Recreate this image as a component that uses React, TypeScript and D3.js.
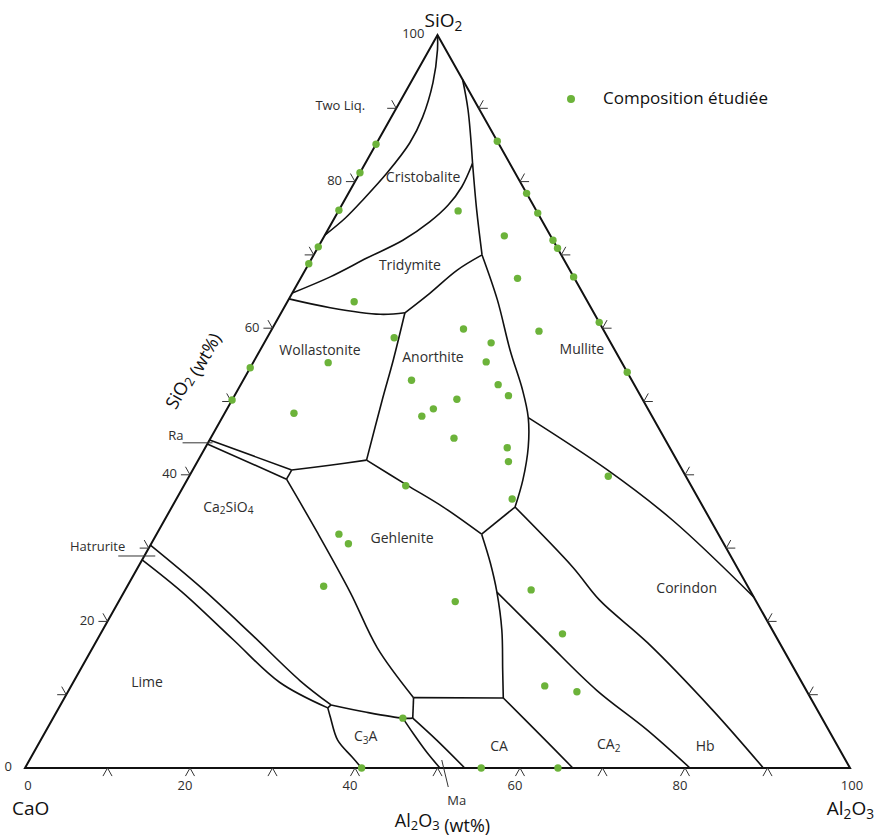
import React from "react";
import * as d3 from "d3";

// Every point is [Al2O3 wt%, SiO2 wt%]; CaO = 100 - Al2O3 - SiO2
type Pt = [number, number];

const studiedCompositions: Pt[] = [
  [0, 85.1], [0, 81.2], [0, 76.1], [0, 71.1], [0, 68.8], [0, 54.6], [0, 50.2],
  [14.5, 85.5], [21.6, 78.4], [24.3, 75.7], [28.0, 72.0], [29.1, 70.9], [33.0, 67.0], [39.2, 60.8], [46.0, 54.0],
  [14.5, 76.0], [21.8, 72.6], [26.3, 66.8], [8.1, 63.6], [15.4, 58.7], [23.2, 59.9], [27.5, 58.0],
  [32.5, 59.6], [28.2, 55.4], [20.4, 52.9], [31.2, 52.3], [33.2, 50.8], [27.2, 50.3], [25.0, 49.0],
  [24.1, 48.0], [29.5, 45.0], [36.6, 43.7], [37.7, 41.8], [40.7, 36.7], [9.1, 55.3], [8.4, 48.4],
  [26.9, 38.5], [50.8, 39.8], [22.1, 31.9], [23.9, 30.6], [23.8, 24.8], [40.8, 22.7], [49.2, 24.3],
  [56.0, 18.3], [57.4, 11.2], [61.7, 10.4], [42.4, 6.8],
  [40.8, 0], [55.3, 0], [64.6, 0],
];

const twoLiquidBoundary: Pt[] = [[0, 100], [1.0, 98.0], [2.7, 93.5], [3.8, 88.8], [4.0, 85.3], [3.3, 81.2], [2.2, 77.5], [1.3, 75.0], [0, 72.7]];
const cristobaliteTridymite: Pt[] = [[13.0, 82.5], [13.3, 79.3], [12.9, 76.8], [11.8, 74.5], [9.8, 72.0], [6.7, 69.6], [3.5, 67.0], [0, 64.8]];
const cristobaliteMullite: Pt[] = [[6.1, 93.9], [8.8, 89.8], [13.0, 82.5]];
const tridymiteMullite: Pt[] = [[13.0, 82.5], [16.7, 76.1], [20.4, 70.0]];
const tridymiteWollastonite: Pt[] = [[0, 64.0], [5.6, 62.8], [12.1, 61.9], [15.0, 62.1]];
const tridymiteAnorthite: Pt[] = [[15.0, 62.1], [16.7, 64.8], [18.4, 67.9], [20.4, 70.0]];
const anorthiteMullite: Pt[] = [[20.4, 70.0], [25.3, 63.9], [30.3, 57.0], [34.5, 51.6], [37.1, 47.8], [39.1, 43.8], [40.7, 39.3], [41.6, 35.6]];
const mulliteCorindon: Pt[] = [[37.1, 47.8], [50.2, 40.7], [61.6, 33.8], [76.7, 23.3]];
const corindonHibonite: Pt[] = [[41.6, 35.6], [52.7, 27.4], [58.2, 22.9], [66.9, 17.1], [79.4, 7.9], [89.5, 0]];
const ca2Hibonite: Pt[] = [[45.2, 24.0], [54.8, 17.1], [64.0, 10.6], [72.8, 5.2], [80.6, 0]];
const gehleniteAnorthite: Pt[] = [[20.4, 42.0], [27.0, 38.6], [32.9, 35.6], [39.4, 31.9]];
const anorthiteCorner: Pt[] = [[39.4, 31.9], [41.6, 35.6]];
const gehleniteCA: Pt[] = [[39.4, 31.9], [42.4, 28.0], [45.2, 24.0], [48.4, 18.8], [51.2, 13.4], [53.2, 9.55]];
const gehleniteBase: Pt[] = [[42.3, 9.6], [53.2, 9.55]];
const caCA2: Pt[] = [[53.2, 9.55], [59.8, 4.8], [66.4, 0]];
const wollastoniteAnorthite: Pt[] = [[15.0, 62.1], [16.8, 55.7], [18.2, 50.2], [20.4, 42.0]];
const rankiniteUpper: Pt[] = [[0, 44.75], [12.0, 40.65]];
const rankiniteLower: Pt[] = [[0, 44.2], [12.0, 39.4]];
const rankiniteEnd: Pt[] = [[12.0, 40.65], [12.0, 39.4]];
const wollastoniteGehlenite: Pt[] = [[12.0, 40.65], [16.3, 41.3], [20.4, 42.0]];
const ca2sio4Gehlenite: Pt[] = [[12.0, 39.4], [19.4, 32.1], [27.5, 23.9], [34.5, 16.4], [42.3, 9.6]];
const hatruriteUpper: Pt[] = [[0, 30.4], [8.9, 24.7], [18.1, 18.4], [27.4, 11.9], [32.8, 8.6]];
const hatruriteLower: Pt[] = [[0, 28.4], [7.2, 23.9], [16.5, 17.5], [25.0, 11.7], [32.6, 8.2]];
const hatruriteEnd: Pt[] = [[32.8, 8.6], [32.6, 8.2]];
const c3aTop: Pt[] = [[32.8, 8.6], [37.6, 7.6], [42.4, 6.8], [43.6, 6.8]];
const c3aLeft: Pt[] = [[32.6, 8.2], [33.5, 7.0], [36.0, 3.8], [38.9, 1.5], [40.8, 0]];
const c3aRight: Pt[] = [[42.4, 6.8], [44.6, 4.8], [47.8, 2.0], [50.3, 0]];
const c12a7Right: Pt[] = [[43.6, 6.8], [48.0, 3.8], [53.3, 0]];
const gehleniteStub: Pt[] = [[42.3, 9.6], [43.6, 6.8]];

const boundaryCurves: Pt[][] = [
  twoLiquidBoundary, cristobaliteTridymite, cristobaliteMullite, tridymiteMullite,
  tridymiteWollastonite, tridymiteAnorthite, anorthiteMullite, mulliteCorindon,
  corindonHibonite, ca2Hibonite, gehleniteAnorthite, anorthiteCorner, gehleniteCA,
  gehleniteBase, caCA2, wollastoniteAnorthite, rankiniteUpper, rankiniteLower,
  rankiniteEnd, wollastoniteGehlenite, ca2sio4Gehlenite, hatruriteUpper, hatruriteLower,
  hatruriteEnd, c3aTop, c3aLeft, c3aRight, c12a7Right, gehleniteStub,
];

const gridTicks = [10, 20, 30, 40, 50, 60, 70, 80, 90];
const axisTickLabels = [0, 20, 40, 60, 80, 100];

const regionNames = ["Cristobalite", "Tridymite", "Wollastonite", "Anorthite", "Mullite", "Ca2SiO4", "Gehlenite", "Corindon", "Lime", "C3A", "CA", "CA2", "Hb"];
const regionAnchors: Pt[] = [[8.0, 80.5], [12.4, 68.5], [7.3, 56.9], [21.5, 55.9], [39.0, 57.0], [6.9, 35.5], [30.1, 31.2], [68.0, 24.4], [9.0, 11.6], [39.2, 4.2], [56.0, 2.9], [69.2, 3.1], [81.0, 2.9]];

const legendLabel = "Composition étudiée";

const W = 876;
const H = 838;
const FONT = "'Open Sans', 'Liberation Sans', sans-serif";
const GREEN = "#6cb33a";
const TXT = "#2e2e2e";

const xScale = d3.scaleLinear().domain([0, 100]).range([25, 850]);
const yScale = d3.scaleLinear().domain([0, 100]).range([768, 35]);
const proj = (a: number, s: number): [number, number] => [xScale(a + s / 2), yScale(s)];

const curve = d3
  .line<Pt>()
  .x((d) => proj(d[0], d[1])[0])
  .y((d) => proj(d[0], d[1])[1])
  .curve(d3.curveCatmullRom.alpha(0.5));

function chem(label: string, fs: number) {
  const parts = label.split(/(\d+)/).filter((p) => p !== "");
  let low = false;
  return parts.map((p, i) => {
    const isNum = /^\d+$/.test(p);
    let dy: number | undefined;
    if (isNum && !low) {
      dy = fs * 0.25;
      low = true;
    } else if (!isNum && low) {
      dy = -fs * 0.25;
      low = false;
    }
    return (
      <tspan key={i} dy={dy} fontSize={isNum ? fs * 0.72 : fs}>
        {p}
      </tspan>
    );
  });
}

const K = 1.1;
function tickPath(p: [number, number], q1: [number, number], q2: [number, number]) {
  return `M${q1[0]},${q1[1]}L${p[0]},${p[1]}L${q2[0]},${q2[1]}`;
}

export default function App() {
  const A = proj(100, 0);
  const C = proj(0, 0);
  const S = proj(0, 100);
  const triangle = `M${C[0]},${C[1]}L${A[0]},${A[1]}L${S[0]},${S[1]}Z`;

  const ticks: string[] = [];
  gridTicks.forEach((t) => {
    ticks.push(tickPath(proj(0, t), proj(-K, t), proj(-K, t + K)));
    ticks.push(tickPath(proj(t, 0), proj(t, -K), proj(t + K, -K)));
    ticks.push(tickPath(proj(100 - t, t), proj(100 - t + K, t), proj(100 - t, t + K)));
  });

  const twoLiq = proj(0, 90);
  const ra = proj(0, 44.5);
  const hat = proj(0, 29.4);
  const ma = proj(51, 0);

  const mid = proj(0, 50);
  const ex = S[0] - C[0];
  const ey = S[1] - C[1];
  const len = Math.hypot(ex, ey);
  const ux = ex / len;
  const uy = ey / len;
  const nx = uy;
  const ny = -ux;
  const ang = (Math.atan2(ey, ex) * 180) / Math.PI;
  const sLabX = mid[0] + 49 * nx + 8 * ux;
  const sLabY = mid[1] + 49 * ny + 8 * uy;

  return (
    <>
      <style>{"body{margin:0}"}</style>
      <svg width={W} height={H} style={{ display: "block", background: "#fff" }} fontFamily={FONT}>
        {boundaryCurves.map((c, i) => (
          <path key={i} d={curve(c) || ""} fill="none" stroke="#111" strokeWidth={1.6} strokeLinejoin="round" />
        ))}
        <path d={triangle} fill="none" stroke="#111" strokeWidth={2} strokeLinejoin="miter" />
        {ticks.map((d, i) => (
          <path key={i} d={d} fill="none" stroke="#333" strokeWidth={1} />
        ))}

        {axisTickLabels.map((v) => {
          const p = proj(0, v);
          return (
            <text key={"l" + v} x={p[0] - 13} y={p[1]} textAnchor="end" dominantBaseline="middle" fontSize={13} fill={TXT}>
              {v}
            </text>
          );
        })}
        {axisTickLabels.map((v) => {
          const p = proj(v, 0);
          const off = v === 0 ? 3 : v === 100 ? 2 : -5;
          return (
            <text key={"b" + v} x={p[0] + off} y={p[1] + 19} textAnchor="middle" dominantBaseline="middle" fontSize={13} fill={TXT}>
              {v}
            </text>
          );
        })}

        {regionNames.map((n, i) => {
          const p = proj(regionAnchors[i][0], regionAnchors[i][1]);
          return (
            <text key={n} x={p[0]} y={p[1]} textAnchor="middle" dominantBaseline="middle" fontSize={14} fill={TXT}>
              {chem(n, 14)}
            </text>
          );
        })}

        <text x={twoLiq[0] - 31} y={twoLiq[1] - 2} textAnchor="end" dominantBaseline="middle" fontSize={13} fill={TXT}>
          Two Liq.
        </text>
        <text x={ra[0] - 25} y={ra[1] - 5} textAnchor="end" dominantBaseline="middle" fontSize={13} fill={TXT}>
          Ra
        </text>
        <line x1={ra[0] - 26} y1={ra[1] + 1} x2={ra[0] + 4} y2={ra[1] + 1} stroke="#333" strokeWidth={1} />
        <text x={hat[0] - 21} y={hat[1] - 5} textAnchor="end" dominantBaseline="middle" fontSize={13} fill={TXT}>
          Hatrurite
        </text>
        <line x1={hat[0] - 28} y1={hat[1] + 3.5} x2={hat[0] + 9} y2={hat[1] + 3.5} stroke="#333" strokeWidth={1} />
        <line x1={ma[0] - 4} y1={ma[1] - 8} x2={ma[0] + 2.5} y2={ma[1] + 19} stroke="#333" strokeWidth={1} />
        <text x={ma[0] + 11} y={ma[1] + 34} textAnchor="middle" dominantBaseline="middle" fontSize={13} fill={TXT}>
          Ma
        </text>

        {studiedCompositions.map((d, i) => {
          const p = proj(d[0], d[1]);
          return <circle key={i} cx={p[0]} cy={p[1]} r={3.7} fill={GREEN} />;
        })}

        <text x={S[0] - 13} y={S[1] - 13} textAnchor="start" dominantBaseline="middle" fontSize={19} fill="#111">
          {chem("SiO2", 19)}
        </text>
        <text x={C[0] - 13} y={C[1] + 42} textAnchor="start" dominantBaseline="middle" fontSize={19} fill="#111">
          CaO
        </text>
        <text x={A[0] + 24} y={A[1] + 42} textAnchor="end" dominantBaseline="middle" fontSize={19} fill="#111">
          {chem("Al2O3", 19)}
        </text>

        <text x={xScale(50) + 5} y={C[1] + 54} textAnchor="middle" dominantBaseline="middle" fontSize={18} fill="#111">
          {chem("Al2O3", 18)}
          <tspan> (wt%)</tspan>
        </text>
        <text
          transform={`translate(${sLabX},${sLabY}) rotate(${ang})`}
          textAnchor="middle"
          dominantBaseline="middle"
          fontSize={18}
          fill="#111"
        >
          {chem("SiO2", 18)}
          <tspan> (wt%)</tspan>
        </text>

        <circle cx={571} cy={99} r={4} fill={GREEN} />
        <text x={603} y={99} dominantBaseline="middle" fontSize={17} fill="#111">
          {legendLabel}
        </text>
      </svg>
    </>
  );
}
